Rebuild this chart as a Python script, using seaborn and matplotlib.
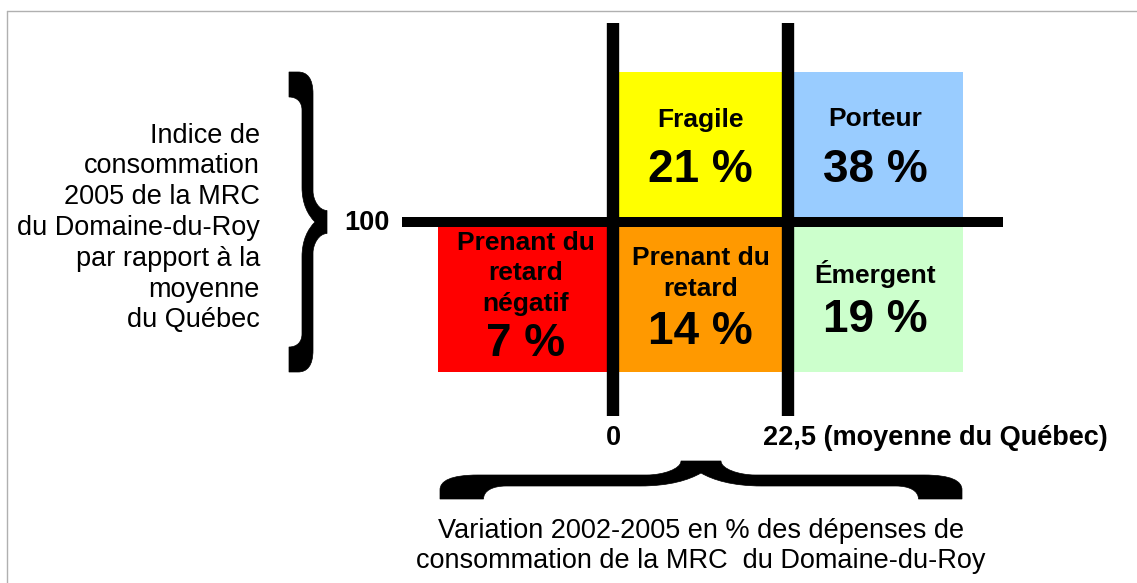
import numpy as np
import pandas as pd
import matplotlib
matplotlib.use("Agg")
import matplotlib.pyplot as plt
from matplotlib.colors import ListedColormap
from matplotlib.path import Path
from matplotlib.patches import PathPatch
import seaborn as sns

# ---------------- data ----------------
categories = ["Fragile", "Porteur", "Prenant du\nretard\nnégatif", "Prenant du\nretard", "Émergent"]
shares = [21, 38, 7, 14, 19]  # % of the sectors in each quadrant
variation_class = ["0 à 22,5", "> 22,5", "< 0", "0 à 22,5", "> 22,5"]
indice_class = ["> 100", "> 100", "< 100", "< 100", "< 100"]
variation_order = ["< 0", "0 à 22,5", "> 22,5"]
indice_order = ["> 100", "< 100"]
colors = ["#FFFF00", "#99CCFF", "#FF0000", "#FF9900", "#CCFFCC"]
x_threshold_labels = ["0", "22,5 (moyenne du Québec)"]
y_threshold_label = "100"
y_title = "Indice de\nconsommation\n2005 de la MRC\ndu Domaine-du-Roy\npar rapport à la\nmoyenne\ndu Québec"
x_title = "Variation 2002-2005 en % des dépenses de\nconsommation de la MRC  du Domaine-du-Roy"

# ---------------- style ----------------
sns.set_style("white")
plt.rcParams["font.family"] = ["Liberation Sans", "DejaVu Sans"]
plt.rcParams["text.color"] = "black"

W, H = 1137, 583
fig = plt.figure(figsize=(W / 100, H / 100), dpi=100)
fig.patch.set_facecolor("white")

# background / annotation layer in pixel coordinates
bg = fig.add_axes([0, 0, 1, 1], zorder=0)
bg.set_xlim(0, W)
bg.set_ylim(H, 0)
bg.axis("off")

# quadrant grid
gx0, gx1, gy0, gy1 = 438, 963, 72, 372
ax = fig.add_axes([gx0 / W, 1 - gy1 / H, (gx1 - gx0) / W, (gy1 - gy0) / H], zorder=1)
df = pd.DataFrame({"cat": range(len(categories)), "var": variation_class, "ind": indice_class})
grid = df.pivot(index="ind", columns="var", values="cat").reindex(index=indice_order, columns=variation_order)
sns.heatmap(grid.astype(float), ax=ax, cmap=ListedColormap(colors), vmin=-0.5,
            vmax=len(colors) - 0.5, cbar=False, xticklabels=False, yticklabels=False)
ax.set_xlabel("")
ax.set_ylabel("")
ax.set_facecolor("none")

gw, gh = gx1 - gx0, gy1 - gy0
# threshold lines
for i, lab in enumerate(x_threshold_labels):
    ax.axvline(i + 1, ymin=-(416 - gy1) / gh, ymax=1 + (gy0 - 23) / gh, color="black",
               lw=8.9, solid_capstyle="butt", clip_on=False, zorder=5)
ax.axhline(1, xmin=(402 - gx0) / gw, xmax=(1003 - gx0) / gw, color="black",
           lw=7.2, solid_capstyle="butt", clip_on=False, zorder=5)

# quadrant labels
for k, (lab, sh) in enumerate(zip(categories, shares)):
    c = variation_order.index(variation_class[k])
    r = indice_order.index(indice_class[k])
    n = lab.count("\n") + 1
    up = 27.5 if r == 0 else 23.5
    ax.annotate(lab, xy=(c + 0.5, r + 0.5), xytext=(0, up), textcoords="offset pixels",
                ha="center", va="center", fontsize=19, fontweight="bold", linespacing=1.33,
                multialignment="center", color="black", zorder=6)
    ax.annotate(f"{sh} %", xy=(c + 0.5, r + 0.5),
                xytext=(0, -(21 + 12 * (n - 1)) - 2), textcoords="offset pixels",
                ha="center", va="center", fontsize=33, fontweight="bold", color="black", zorder=6)

# threshold labels
bg.text(390, 223, y_threshold_label, ha="right", va="center", fontsize=19.5, fontweight="bold")
bg.text(613, 438, x_threshold_labels[0], ha="center", va="center", fontsize=19.5, fontweight="bold")
bg.text(763, 438, x_threshold_labels[1], ha="left", va="center", fontsize=19.5, fontweight="bold")

# axis titles
bg.text(260, 228, y_title, ha="right", va="center", multialignment="right",
        fontsize=19.5, linespacing=1.24)
bg.text(701, 546, x_title, ha="center", va="center", multialignment="center",
        fontsize=19.5, linespacing=1.24)


# braces
def brace_segments():
    return [
        ("M", (0, 0)), ("L", (0, 9)),
        ("C", (0, 18), (6, 24), (22, 24)),
        ("L", (119, 24)),
        ("C", (128, 24), (138.5, 30), (138.5, 38)),
        ("L", (161.5, 38)),
        ("C", (161.5, 30), (172, 24), (181, 24)),
        ("L", (278, 24)),
        ("C", (294, 24), (300, 18), (300, 9)),
        ("L", (300, 0)), ("L", (275, 0)),
        ("C", (275, 8), (270, 13), (262, 13)),
        ("L", (185, 13)),
        ("C", (168, 13), (157, 19), (150, 26)),
        ("C", (143, 19), (132, 13), (115, 13)),
        ("L", (38, 13)),
        ("C", (30, 13), (25, 8), (25, 0)),
        ("Z",),
    ]


def draw_brace(mapper):
    verts, codes = [], []
    for seg in brace_segments():
        kind = seg[0]
        if kind == "M":
            verts.append(mapper(*seg[1])); codes.append(Path.MOVETO)
        elif kind == "L":
            verts.append(mapper(*seg[1])); codes.append(Path.LINETO)
        elif kind == "C":
            for p in seg[1:]:
                verts.append(mapper(*p)); codes.append(Path.CURVE4)
        else:
            verts.append(verts[0]); codes.append(Path.CLOSEPOLY)
    bg.add_patch(PathPatch(Path(verts, codes), facecolor="black", edgecolor="black", lw=0.5))


draw_brace(lambda s, d: (289 + d, 72 + s * 300 / 300))
draw_brace(lambda s, d: (440 + s * 522 / 300, 499 - d))

# frame (top and left)
bg.plot([7, W], [11, 11], color="#b0b0b0", lw=1)
bg.plot([7, 7], [11, H], color="#b0b0b0", lw=1)

fig.savefig("out.png", dpi=100, facecolor="white")
